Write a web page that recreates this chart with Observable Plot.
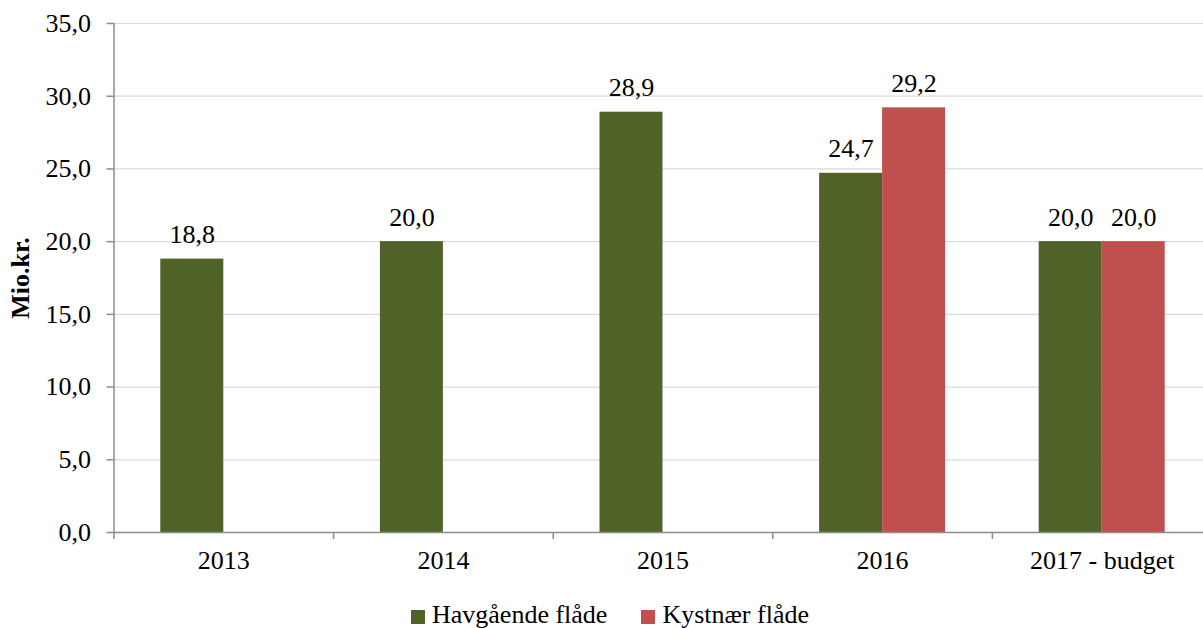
<!DOCTYPE html>
<html>
<head>
<meta charset="utf-8">
<script src="https://cdn.jsdelivr.net/npm/d3@7"></script>
<script src="https://cdn.jsdelivr.net/npm/@observablehq/plot@0.6"></script>
<style>
  html, body { margin: 0; padding: 0; background: #fff; overflow: hidden; }
  #chart { position: relative; width: 1203px; height: 628px; font-family: "Liberation Serif", "Times New Roman", serif; }
  #legend { position: absolute; left: 411px; top: 600px; display: flex; align-items: center; font-size: 26px; line-height: 30px; color: #000; white-space: nowrap; }
  .item { display: flex; align-items: center; margin-right: 34px; }
  .swatch { width: 14px; height: 14px; margin-right: 7px; margin-top: 4px; }
</style>
</head>
<body>
<div id="chart"></div>
<script>
// Udgifter pr. år, mio. kr.
const years = ["2013", "2014", "2015", "2016", "2017 - budget"];
const havgaende = [18.8, 20.0, 28.9, 24.7, 20.0];
const kystnaer = [null, null, null, 29.2, 20.0];
const seriesNames = ["Havgående flåde", "Kystnær flåde"];
const seriesColors = ["#4F6228", "#C0504D"];
const yTicks = [0, 5, 10, 15, 20, 25, 30, 35];

const fmt = d => d.toFixed(1).replace(".", ",");

const rowsHav = years.map((year, i) => ({year, value: havgaende[i]})).filter(d => d.value != null);
const rowsKyst = years.map((year, i) => ({year, value: kystnaer[i]})).filter(d => d.value != null);

// each category band is ~220px wide; the two bars (63px each) meet at the band centre
const band = 219.6;
const barW = 63;
const half = band / 2;

const plot = Plot.plot({
  width: 1203,
  height: 592,
  marginLeft: 113.5,
  marginRight: 0,
  marginTop: 23,
  marginBottom: 60,
  style: {fontFamily: "Liberation Serif, Times New Roman, serif", fontSize: "26px", background: "transparent", color: "#000"},
  x: {domain: years, range: [113.5, 113.5 + band * years.length], padding: 0, round: false},
  y: {domain: [0, 35]},
  marks: [
    Plot.gridY(yTicks, {stroke: "#d9d9d9", strokeOpacity: 1, strokeWidth: 1.2}),
    Plot.barY(rowsHav, {x: "year", y: "value", fill: seriesColors[0], insetLeft: half - barW, insetRight: half}),
    Plot.barY(rowsKyst, {x: "year", y: "value", fill: seriesColors[1], insetLeft: half, insetRight: half - barW}),
    Plot.text(rowsHav, {x: "year", y: "value", text: d => fmt(d.value), dx: -barW / 2, dy: -16, lineAnchor: "bottom", fill: "#000", fontSize: 26}),
    Plot.text(rowsKyst, {x: "year", y: "value", text: d => fmt(d.value), dx: barW / 2, dy: -16, lineAnchor: "bottom", fill: "#000", fontSize: 26}),
    Plot.frame({anchor: "left", stroke: "#8c8c8c", strokeWidth: 1.5}),
    Plot.ruleY([0], {stroke: "#8c8c8c", strokeWidth: 1.5}),
    Plot.axisY({ticks: yTicks, tickSize: 7, tickPadding: 16, tickFormat: fmt, stroke: "#8c8c8c", strokeWidth: 1.5, fill: "#000", fontSize: 26, label: null}),
    Plot.axisY({ticks: [], tickSize: 0, label: "Mio.kr.", labelAnchor: "center", labelArrow: "none", labelOffset: 103, fontWeight: "bold", fill: "#000", fontSize: 26}),
    // category boundary ticks below the baseline
    Plot.axisX({tickSize: 7, text: null, dx: -half, stroke: "#8c8c8c", strokeWidth: 1.5, label: null}),
    Plot.axisX({tickSize: 0, tickPadding: 18.5, fill: "#000", fontSize: 26, label: null})
  ]
});

const chart = document.getElementById("chart");
chart.appendChild(plot);

const legend = document.createElement("div");
legend.id = "legend";
seriesNames.forEach((name, i) => {
  const item = document.createElement("div");
  item.className = "item";
  const sw = document.createElement("span");
  sw.className = "swatch";
  sw.style.background = seriesColors[i];
  const label = document.createElement("span");
  label.textContent = name;
  item.appendChild(sw);
  item.appendChild(label);
  legend.appendChild(item);
});
chart.appendChild(legend);
</script>
</body>
</html>
